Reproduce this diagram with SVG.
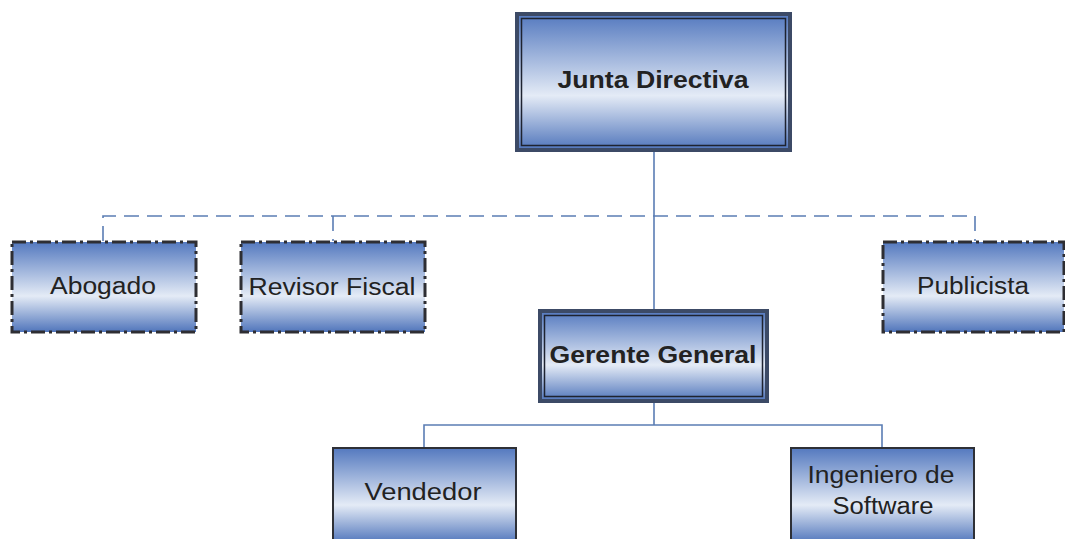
<svg xmlns="http://www.w3.org/2000/svg" width="1065" height="539" viewBox="0 0 1065 539">
<defs>
<linearGradient id="g" x1="0" y1="0" x2="0" y2="1">
<stop offset="0" stop-color="#5479bf"/>
<stop offset="0.6" stop-color="#e4ebf6"/>
<stop offset="1" stop-color="#5075bb"/>
</linearGradient>
<style>
.box{fill:url(#g)}
.dd{stroke:#2e2e33;stroke-width:3;fill:url(#g);stroke-dasharray:14 4 3 4}
.solid{stroke:#2e3036;stroke-width:2;fill:url(#g)}
.outer{fill:none;stroke:#3c4a66;stroke-width:4}
.inner{fill:none;stroke:#1e2330;stroke-width:1.5}
.t{font-family:"Liberation Sans",Arial,sans-serif;font-size:23px;fill:#222;text-anchor:middle}
.b{font-weight:bold}
.c{fill:none;stroke:#5b7db4;stroke-width:1.6}
.dash{stroke-dasharray:15 8}
</style>
</defs>
<g id="connectors">
<path class="c dash" d="M103 241 V216 H975 V241 M333 216 V241"/>
<path class="c" d="M654 152 V310 M654 402 V425 M424 447 V425 H882 V447"/>
</g>
<g id="junta">
<rect x="517" y="14" width="273" height="136" class="box"/>
<rect x="517" y="14" width="273" height="136" class="outer"/>
<rect x="521.5" y="18.5" width="264" height="127" class="inner"/>
<text x="653" y="88" class="t b" textLength="191" lengthAdjust="spacingAndGlyphs">Junta Directiva</text>
</g>
<g id="abogado">
<rect x="12" y="242" width="184" height="90" class="dd"/>
<text x="103" y="294" class="t" textLength="106" lengthAdjust="spacingAndGlyphs">Abogado</text>
</g>
<g id="revisor">
<rect x="241" y="242" width="184" height="90" class="dd"/>
<text x="332" y="295" class="t" textLength="167" lengthAdjust="spacingAndGlyphs">Revisor Fiscal</text>
</g>
<g id="publicista">
<rect x="883" y="242" width="181" height="90" class="dd"/>
<text x="973" y="294" class="t" textLength="112" lengthAdjust="spacingAndGlyphs">Publicista</text>
</g>
<g id="gerente">
<rect x="540" y="311" width="227" height="90" class="box"/>
<rect x="540" y="311" width="227" height="90" class="outer"/>
<rect x="544.5" y="315.5" width="218" height="81" class="inner"/>
<text x="653" y="363" class="t b" textLength="207" lengthAdjust="spacingAndGlyphs">Gerente General</text>
</g>
<g id="vendedor">
<rect x="333" y="448" width="183" height="95" class="solid"/>
<text x="423" y="500" class="t" textLength="117" lengthAdjust="spacingAndGlyphs">Vendedor</text>
</g>
<g id="ingeniero">
<rect x="791" y="448" width="183" height="95" class="solid"/>
<text x="881" y="483" class="t" textLength="147" lengthAdjust="spacingAndGlyphs">Ingeniero de</text>
<text x="883" y="514" class="t" textLength="101" lengthAdjust="spacingAndGlyphs">Software</text>
</g>
</svg>
